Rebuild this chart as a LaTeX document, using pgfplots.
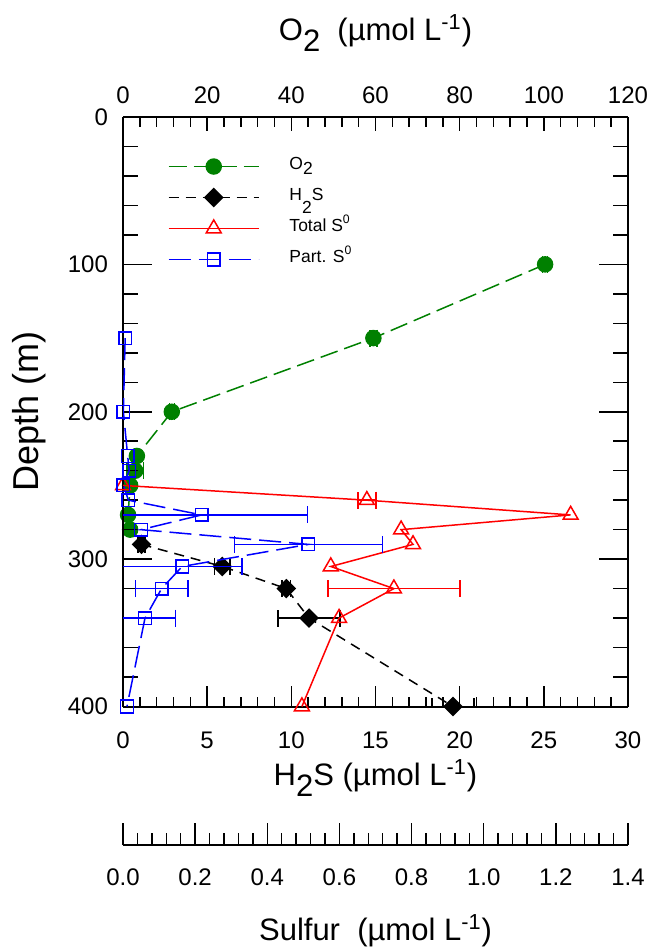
\documentclass[border=0pt]{standalone}
\usepackage{fontspec}
\setmainfont{Liberation Sans}
\usepackage{graphicx}
\usepackage{pgfplots}
\usepackage{pgfplotstable}
\pgfplotsset{compat=1.18}

\definecolor{o2green}{RGB}{0,128,0}
\newcommand{\lowtwo}[1][0.38em]{\raisebox{-#1}{2}}

% depth profiles: depth (m), value, x error
\pgfplotstableread{
depth val
100 100.3
150 59.5
200 11.6
230 3.3
240 2.9
250 1.7
270 1.2
280 1.7
}\oxy
\pgfplotstableread{
depth val err
100 100.3 0.6
150 59.5 0.8
200 11.6 0.6
240 2.9 2.0
}\oxerr
\pgfplotstableread{
depth val
290 1.1
305 5.9
320 9.7
340 11.05
400 19.6
}\hs
\pgfplotstableread{
depth val err
290 1.1 0.2
305 5.9 0.45
320 9.7 0.25
340 11.05 1.85
400 19.6 1.25
}\hserr
\pgfplotstableread{
depth val
250 0.0
260 0.676
270 1.241
280 0.771
290 0.804
305 0.576
320 0.751
340 0.599
400 0.496
}\tots
\pgfplotstableread{
depth val err
260 0.676 0.025
320 0.751 0.183
}\totserr
\pgfplotstableread{
depth val
150 0.006
200 0.001
230 0.013
240 0.017
250 0.001
260 0.015
270 0.218
280 0.050
290 0.514
305 0.164
320 0.107
340 0.061
400 0.011
}\parts
\pgfplotstableread{
depth val err
270 0.218 0.294
290 0.514 0.205
305 0.164 0.166
320 0.107 0.073
340 0.061 0.085
}\partserr

\pgfplotsset{
  panel/.style={
    scale only axis, width=252.5pt, height=294.75pt,
    at={(126.25pt,147.375pt)}, anchor=center,
    ymin=0, ymax=400, y dir=reverse,
    tick align=inside,
    /pgf/number format/assume math mode=true,
    tick label style={font=\fontsize{12}{14}\selectfont},
    label style={font=\fontsize{15.5}{18}\selectfont},
    axis line style={line width=1pt},
    tick style={line width=0.75pt, black},
  },
  % horizontal error bars only, in the given colour
  xerr/.style={forget plot, draw=none, mark=none,
    error bars/.cd, x dir=both, x explicit,
    error mark=-,
    error bar style={draw=#1, solid, line width=0.75pt},
    error mark options={draw=#1, solid, rotate=90, line width=0.75pt, mark size=4.25pt}},
  o2/.style={color=o2green, line width=0.75pt, dash pattern=on 9pt off 3.5pt,
    mark=*, mark size=3.75pt, mark options={solid, fill=o2green}},
  hs/.style={color=black, line width=0.75pt, dash pattern=on 5pt off 3.5pt,
    mark=square*, mark size=3.1pt, mark options={solid, rotate=45, fill=black}},
  tot/.style={color=red, line width=0.75pt, solid,
    mark=triangle, mark size=4.3pt, mark options={solid, fill=white}},
  part/.style={color=blue, line width=0.75pt, dash pattern=on 11pt off 4pt,
    mark=square, mark size=3.15pt, mark options={solid, fill=white}},
}

\begin{document}
\begin{tikzpicture}
\useasboundingbox (-61.5pt,-121.25pt) rectangle (265.5pt,353.25pt);

% oxygen, top scale
\begin{axis}[panel, xmin=0, xmax=120,
  axis x line*=top, axis y line=none,
  xtick={0,20,...,120}, minor x tick num=4,
  major tick length=7pt, minor tick length=5pt,
  xticklabel style={anchor=base, inner sep=0pt, yshift=6.85pt},
  xlabel={O\lowtwo\ \ (µmol L\textsuperscript{-1})},
  xlabel style={at={(axis description cs:0.5,1)}, anchor=base, inner sep=0pt, yshift=38.5pt}]
\addplot[xerr=o2green] table[x=val, y=depth, x error=err] {\oxerr};
\addplot[o2] table[x=val, y=depth] {\oxy};
\end{axis}

% hydrogen sulfide, bottom scale
\begin{axis}[panel, xmin=0, xmax=30,
  axis x line*=bottom, axis y line=none,
  xtick={0,5,...,30}, minor x tick num=4,
  major tick length=10.5pt, minor tick length=5pt,
  xticklabel style={anchor=base, inner sep=0pt, yshift=-20.9pt},
  xlabel={H\lowtwo S (µmol L\textsuperscript{-1})},
  xlabel style={at={(axis description cs:0.5,0)}, anchor=base, inner sep=0pt, yshift=-39.25pt}]
\addplot[xerr=black] table[x=val, y=depth, x error=err] {\hserr};
\addplot[hs] table[x=val, y=depth] {\hs};
\end{axis}

% depth scale, left and right
\begin{axis}[panel, xmin=0, xmax=1,
  axis x line=none, axis y line*=box,
  ytick={0,100,...,400}, minor y tick num=4,
  major tick length=14.5pt, minor tick length=7.5pt,
  yticklabel pos=left,
  yticklabel style={anchor=east, inner sep=0pt, xshift=-7.35pt},
  ylabel={Depth (m)},
  ylabel style={at={(axis description cs:-0.186,0.5)}, anchor=center, inner sep=0pt,
    font=\fontsize{18}{21}\selectfont}]
\end{axis}

% elemental sulfur, plotted against the sulfur scale
\begin{axis}[panel, xmin=0, xmax=1.4, hide axis,
  legend style={draw=none, fill=none, inner sep=0pt, outer sep=0pt,
    at={(axis description cs:0.0891,0.9423)}, anchor=north west,
    font=\fontsize{8.75}{10}\selectfont, row sep=0pt, column sep=15pt,
    nodes={inner sep=0pt, text height=9pt, text depth=6.5pt},
    cells={anchor=west}},
  legend image code/.code={\draw[mark repeat=2, mark phase=2, #1]
    plot coordinates {(0pt,0pt) (22.5pt,0pt) (45pt,0pt)};}]
\addlegendimage{o2}
\addlegendimage{hs}
\addplot[xerr=red] table[x=val, y=depth, x error=err] {\totserr};
\addplot[tot] table[x=val, y=depth] {\tots};
\addplot[xerr=blue] table[x=val, y=depth, x error=err] {\partserr};
\addplot[part] table[x=val, y=depth] {\parts};
\legend{O\lowtwo[0.3em], H\lowtwo[0.75em]S, Total S\textsuperscript{0}, Part. S\textsuperscript{0}}
\end{axis}

% sulfur scale below the panel
\begin{axis}[scale only axis, width=252.5pt, height=10pt,
  at={(126.25pt,-64.25pt)}, anchor=center,
  xmin=0, xmax=1.4, ymin=0, ymax=1,
  axis x line*=bottom, axis y line=none,
  tick align=inside,
  xtick={0,0.2,0.4,0.6,0.8,1.0,1.2,1.4}, minor x tick num=4,
  major tick length=11pt, minor tick length=6pt,
  axis line style={line width=1pt},
  tick style={line width=0.75pt, black},
  /pgf/number format/assume math mode=true,
  /pgf/number format/.cd, fixed, fixed zerofill, precision=1, /pgfplots/.cd,
  tick label style={font=\fontsize{12}{14}\selectfont},
  xticklabel style={anchor=base, inner sep=0pt, yshift=-20pt},
  xlabel={Sulfur\ \ (µmol L\textsuperscript{-1})},
  xlabel style={at={(axis description cs:0.5,0)}, anchor=base, inner sep=0pt, yshift=-47.5pt,
    font=\fontsize{15.5}{18}\selectfont}]
\end{axis}
\end{tikzpicture}
\end{document}
